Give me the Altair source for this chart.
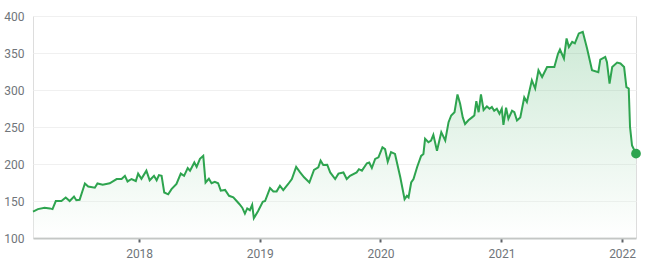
import altair as alt
import pandas as pd

dates = [
    "2017-02-14", "2017-03-01", "2017-03-21", "2017-04-06", "2017-04-14", "2017-04-24",
    "2017-05-11", "2017-05-24", "2017-06-05", "2017-06-18", "2017-06-25", "2017-07-05",
    "2017-07-21", "2017-07-31", "2017-08-20", "2017-08-28", "2017-09-13", "2017-10-04",
    "2017-10-25", "2017-11-09", "2017-11-19", "2017-11-27", "2017-12-09", "2017-12-22",
    "2017-12-29", "2018-01-08", "2018-01-23", "2018-02-02", "2018-02-15", "2018-02-23",
    "2018-03-02", "2018-03-10", "2018-03-18", "2018-03-30", "2018-04-09", "2018-04-24",
    "2018-05-07", "2018-05-17", "2018-05-28", "2018-06-04", "2018-06-17", "2018-06-24",
    "2018-07-04", "2018-07-14", "2018-07-21", "2018-07-31", "2018-08-08", "2018-08-18",
    "2018-08-28", "2018-09-05", "2018-09-18", "2018-09-30", "2018-10-13", "2018-10-23",
    "2018-10-31", "2018-11-09", "2018-11-17", "2018-11-24", "2018-12-02", "2018-12-09",
    "2018-12-14", "2018-12-27", "2019-01-10", "2019-01-17", "2019-02-01", "2019-02-11",
    "2019-02-21", "2019-03-03", "2019-03-13", "2019-03-28", "2019-04-08", "2019-04-21",
    "2019-05-03", "2019-05-15", "2019-05-31", "2019-06-14", "2019-06-27", "2019-07-04",
    "2019-07-12", "2019-07-24", "2019-08-02", "2019-08-17", "2019-08-27", "2019-09-11",
    "2019-09-21", "2019-10-01", "2019-10-21", "2019-10-28", "2019-11-06", "2019-11-21",
    "2019-11-28", "2019-12-06", "2019-12-16", "2019-12-26", "2020-01-07", "2020-01-15",
    "2020-01-23", "2020-02-02", "2020-02-14", "2020-03-01", "2020-03-14", "2020-03-21",
    "2020-03-26", "2020-04-03", "2020-04-10", "2020-04-21", "2020-05-03", "2020-05-10",
    "2020-05-15", "2020-05-25", "2020-06-02", "2020-06-09", "2020-06-20", "2020-07-03",
    "2020-07-15", "2020-07-25", "2020-08-02", "2020-08-12", "2020-08-21", "2020-08-29",
    "2020-09-06", "2020-09-13", "2020-09-23", "2020-10-04", "2020-10-11", "2020-10-17",
    "2020-10-24", "2020-10-31", "2020-11-08", "2020-11-18", "2020-11-26", "2020-12-03",
    "2020-12-10", "2020-12-18", "2020-12-26", "2021-01-02", "2021-01-07", "2021-01-15",
    "2021-01-22", "2021-02-02", "2021-02-09", "2021-02-17", "2021-02-27", "2021-03-11",
    "2021-03-19", "2021-04-03", "2021-04-13", "2021-04-23", "2021-05-04", "2021-05-19",
    "2021-06-03", "2021-06-10", "2021-06-21", "2021-06-27", "2021-07-09", "2021-07-17",
    "2021-07-24", "2021-08-03", "2021-08-11", "2021-08-23", "2021-09-04", "2021-09-17",
    "2021-10-02", "2021-10-21", "2021-10-27", "2021-11-11", "2021-11-16", "2021-11-24",
    "2021-12-02", "2021-12-17", "2021-12-27", "2022-01-07", "2022-01-14", "2022-01-21",
    "2022-01-25", "2022-01-31", "2022-02-12",
]

prices = [
    135.7, 139, 141, 140, 139, 150,
    150, 154.7, 150, 156, 151, 151.6,
    173.7, 169.6, 168, 173.7, 172, 174,
    179.7, 179.7, 184, 176.4, 179.7, 177,
    187, 180, 191, 178, 184, 178,
    185, 184, 161.5, 159, 166, 173,
    187, 184, 194.6, 191, 202, 196,
    207, 211, 175, 180, 174, 176,
    174, 164, 165, 157, 155, 150,
    146, 141, 133, 140, 137.6, 144.8,
    126.7, 136.6, 149, 150, 167.5, 163,
    163, 170.6, 164.7, 173, 179.7, 196,
    188.6, 182, 175, 192, 195.4, 204.5,
    198.6, 199, 188.6, 179.7, 187, 188.6,
    179.7, 184, 188.6, 193, 191, 201,
    202, 194.6, 206.8, 209, 222.6, 220,
    203, 216, 213.6, 182, 152.5, 157,
    154.7, 175, 179.7, 196, 211, 213.6,
    234, 229.4, 231.7, 239.4, 218, 243,
    231.7, 256.5, 265.6, 270, 294, 281.5,
    263, 254, 259, 263, 265.6, 285,
    270, 294, 273, 277.8, 274.7, 277,
    272, 274.7, 268, 274.7, 253, 276,
    261, 272, 270, 258.8, 263, 290,
    283.7, 313, 302, 326.7, 317.6, 331,
    331, 331, 349, 354.7, 342.6, 369.7,
    358, 365, 363, 376.5, 378.7, 356,
    326.7, 324, 341, 344.7, 338, 308.6,
    331, 337, 335.8, 331, 304, 302,
    249.7, 225, 214,
]

df = pd.DataFrame({"date": pd.to_datetime(dates), "price": prices})
last = df.tail(1)

GREEN = "#2ea44f"
x_dom = [df["date"].min().isoformat(), df["date"].max().isoformat()]

x_enc = alt.X(
    "date:T",
    scale=alt.Scale(domain=x_dom, nice=False),
    axis=alt.Axis(
        title=None,
        format="%Y",
        tickCount={"interval": "year", "step": 1},
        grid=False,
        domain=True,
        domainColor="#c4c7c5",
        domainWidth=2,
        ticks=True,
        tickColor="#5f6368",
        tickWidth=2,
        tickSize=4,
        labelPadding=6,
        labelColor="#70757a",
        labelFontSize=12,
        labelFont="Roboto",
    ),
)
y_enc = alt.Y(
    "price:Q",
    scale=alt.Scale(domain=[100, 400], nice=False, zero=False),
    axis=alt.Axis(
        title=None,
        values=[100, 150, 200, 250, 300, 350, 400],
        grid=True,
        gridColor="#f0f0f0",
        gridWidth=1,
        domain=False,
        ticks=False,
        labelPadding=9,
        labelColor="#70757a",
        labelFontSize=12,
        labelFont="Roboto",
    ),
)

area = alt.Chart(df).mark_area(
    color=alt.Gradient(
        gradient="linear",
        stops=[
            alt.GradientStop(color="#1e9e45", offset=0),
            alt.GradientStop(color="#ffffff", offset=1),
        ],
        x1=1, x2=1, y1=0, y2=1,
    ),
    opacity=0.22,
).encode(x=x_enc, y=y_enc, y2=alt.datum(100))

line = alt.Chart(df).mark_line(color=GREEN, strokeWidth=2).encode(x=x_enc, y=y_enc)

dot = alt.Chart(last).mark_circle(color=GREEN, size=95, opacity=1).encode(x=x_enc, y=y_enc)

chart = (
    alt.layer(area, line, dot)
    .properties(
        width=603,
        height=222,
        padding={"left": 33, "top": 16, "right": 14, "bottom": 29},
        autosize=alt.AutoSizeParams(type="none"),
    )
    .configure_view(stroke=None)
    .configure(background="white")
)

chart.save("out.html", embed_options={"renderer": "svg", "actions": False})
